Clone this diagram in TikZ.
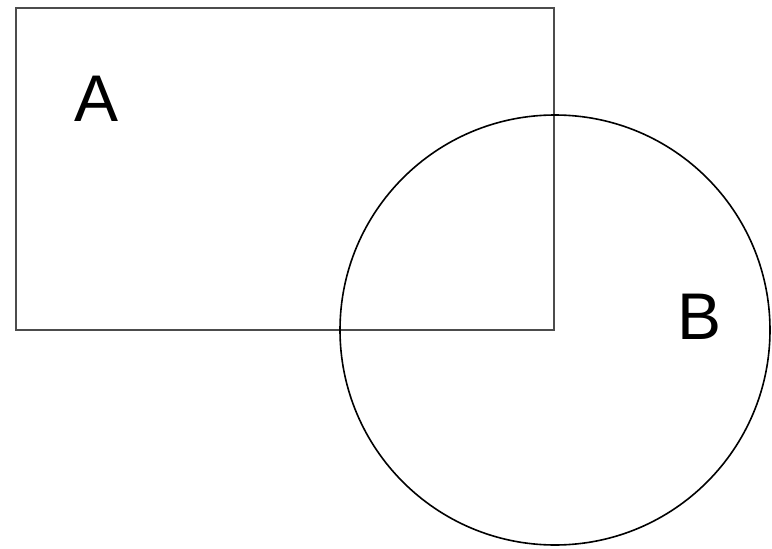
\documentclass[tikz,border=0pt]{standalone}
\usepackage{fontspec}
\setmainfont{Liberation Sans}
\begin{document}
\begin{tikzpicture}[
    x=1pt, y=-1pt,
    setbox/.style={draw=black!70, line width=2.5pt},
    setcircle/.style={draw=black, line width=1.6pt},
    setlabel/.style={font=\fontsize{66}{70}\selectfont, inner sep=0pt},
]
\useasboundingbox (0,0) rectangle (772,549);
% set A
\draw[setbox] (16,8) rectangle (554,330);
% set B
\draw[setcircle] (555,330) circle (215);
\node[setlabel] (labA) at (97,99) {A};
\node[setlabel] (labB) at (700,317) {B};
\end{tikzpicture}
\end{document}
